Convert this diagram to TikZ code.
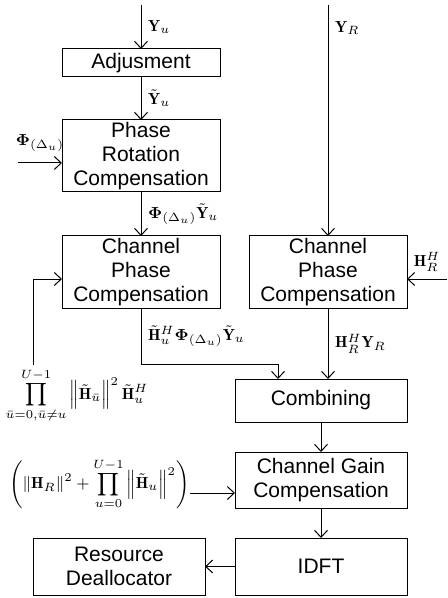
\documentclass[tikz,border=0pt]{standalone}
\usepackage{amsmath}
\usepackage{amssymb}
\usepackage{fontspec}
\newfontfamily\boxfont{Liberation Sans}
\usetikzlibrary{arrows.meta,positioning}

\begin{document}
\begin{tikzpicture}[->,>={Straight Barb[length=3.5pt,width=6.5pt]},line width=0.5pt,
                    box/.style={draw,rectangle,inner sep=0pt,outer sep=0pt,align=center,
                      font=\boxfont\fontsize{10.5}{12}\selectfont},
                    lbl/.style={font=\footnotesize}]

  \useasboundingbox (0,0) rectangle (223.5pt,-299pt);

  \node[box,minimum width=79pt,minimum height=14pt] (adj) at (70.5pt,-31.5pt) {Adjusment};
  \node[box,minimum width=79pt,minimum height=36pt] (prc) [below=21.5pt of adj] {Phase\\Rotation\\Compensation};
  \node[box,minimum width=79pt,minimum height=36pt] (cpcL) [below=22pt of prc] {Channel\\Phase\\Compensation};
  \node[box,minimum width=79pt,minimum height=36pt] (cpcR) [right=14.5pt of cpcL] {Channel\\Phase\\Compensation};
  \node[box,minimum width=86pt,minimum height=21.5pt] (comb) [below=35.5pt of cpcR.south east,anchor=north east] {Combining};
  \node[box,minimum width=86pt,minimum height=28pt] (cgc) [below=15pt of comb] {Channel Gain\\Compensation};
  \node[box,minimum width=86pt,minimum height=28.5pt] (idft) [below=15pt of cgc] {IDFT};
  \node[box,minimum width=86pt,minimum height=28.5pt] (rd) [left=15pt of idft] {Resource\\Deallocator};

  \node[lbl] (prodH) at (38.5pt,-198pt)
    {$\displaystyle\prod_{\bar{u}=0,\bar{u}\neq u}^{U-1}\left\|\tilde{\mathbf{H}}_{\bar{u}}\right\|^2\tilde{\mathbf{H}}_u^H$};
  \node[lbl,inner sep=0pt,anchor=east] (gain) at (95pt,-242pt)
    {$\displaystyle\left(\left\|\mathbf{H}_R\right\|^2+\prod_{u=0}^{U-1}\left\|\tilde{\mathbf{H}}_u\right\|^2\right)$};

  \coordinate (yu) at (70.5pt,-2.5pt);
  \coordinate (yr) at (yu -| cpcR.north);
  \coordinate (phi) at ([xshift=-22pt,yshift=-3.5pt]prc.west);
  \coordinate (hr) at ([xshift=20pt,yshift=-3.5pt]cpcR.east);
  \coordinate (fb) at (16.5pt,-182.5pt);

  \draw (yu) -- node[lbl,right] {$\mathbf{Y}_u$} (adj);
  \draw (adj) -- node[lbl,right] {$\tilde{\mathbf{Y}}_u$} (prc);
  \draw (phi) -- node[lbl,above=2pt] {$\boldsymbol{\Phi}_{(\Delta_u)}$} (phi -| prc.west);
  \draw (prc) -- node[lbl,right] {$\boldsymbol{\Phi}_{(\Delta_u)}\tilde{\mathbf{Y}}_u$} (cpcL);
  \draw (yr) -- node[lbl,right,pos=0.1] {$\mathbf{Y}_R$} (cpcR);
  \draw (hr) -- node[lbl,above] {$\mathbf{H}_R^H$} (hr -| cpcR.east);
  \draw (fb) |- ([yshift=-3.5pt]cpcL.west);
  \draw (cpcL.south) -- node[lbl,right] {$\tilde{\mathbf{H}}_u^H\boldsymbol{\Phi}_{(\Delta_u)}\tilde{\mathbf{Y}}_u$} ++(0,-28pt)
        -| ([xshift=-21.5pt]comb.north);
  \draw (cpcR.south) -- node[lbl,right] {$\mathbf{H}_R^H\mathbf{Y}_R$} (cpcR.south |- comb.north);
  \draw (comb) -- (cgc);
  \draw ([yshift=-4.5pt]gain.east) -- ([yshift=-4.5pt]gain.east -| cgc.west);
  \draw (cgc) -- (idft);
  \draw (idft) -- (rd);
\end{tikzpicture}
\end{document}
